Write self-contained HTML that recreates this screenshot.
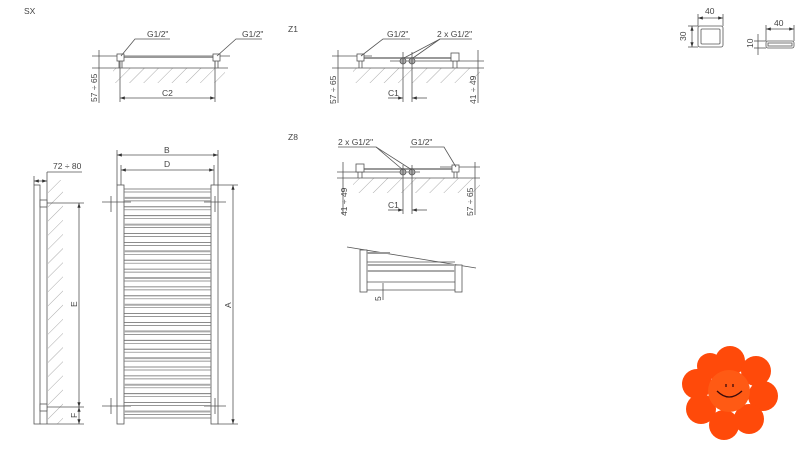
<!DOCTYPE html>
<html><head><meta charset="utf-8"><style>
html,body{margin:0;padding:0;background:#fff;}
svg{display:block;font-family:"Liberation Sans",sans-serif;}
text{fill:#444;font-size:8.5px;}
</style></head><body>
<svg width="801" height="459" viewBox="0 0 801 459" xmlns="http://www.w3.org/2000/svg">
<defs>
<pattern id="h" width="10" height="10" patternUnits="userSpaceOnUse" patternTransform="rotate(45)">
<line x1="0" y1="0" x2="0" y2="10" stroke="#888" stroke-width="0.7"/>
</pattern>
<marker id="a" markerWidth="6" markerHeight="6" refX="6" refY="3" orient="auto-start-reverse"><path d="M0,1 L6,3 L0,5z" fill="#333"/></marker>
</defs>
<g stroke="#555" stroke-width="0.8" fill="none">
<!-- SX -->
<rect x="113" y="68" width="112" height="15" fill="url(#h)" stroke="none"/>
<line x1="92" y1="68" x2="228" y2="68"/>
<line x1="92" y1="56" x2="230" y2="56"/>
<line x1="124" y1="57" x2="213" y2="57" stroke-width="2" stroke="#999"/>
<rect x="117" y="54" width="7" height="7" fill="#fff"/><rect x="213" y="54" width="7" height="7" fill="#fff"/>
<line x1="119" y1="61" x2="119" y2="68"/><line x1="122" y1="61" x2="122" y2="68"/>
<line x1="215" y1="61" x2="215" y2="68"/><line x1="218" y1="61" x2="218" y2="68"/>
<line x1="120" y1="61" x2="120" y2="102"/><line x1="215" y1="61" x2="215" y2="102"/>
<line x1="120" y1="98" x2="215" y2="98" marker-start="url(#a)" marker-end="url(#a)"/>
<line x1="99" y1="50" x2="99" y2="103"/>
<polyline points="170,39 135,39 121,56"/><polyline points="262,39 236,39 217,56"/>
<!-- Z1 -->
<rect x="353" y="68" width="127" height="15" fill="url(#h)" stroke="none"/>
<line x1="332" y1="68" x2="484" y2="68"/>
<line x1="332" y1="56" x2="372" y2="56"/><line x1="390" y1="61" x2="484" y2="61"/>
<line x1="364" y1="58" x2="451" y2="58" stroke-width="2" stroke="#999"/>
<rect x="357" y="54" width="7" height="7" fill="#fff"/><rect x="451" y="53" width="8" height="8" fill="#fff"/>
<line x1="359" y1="61" x2="359" y2="68"/><line x1="362" y1="61" x2="362" y2="68"/>
<line x1="453" y1="61" x2="453" y2="68"/><line x1="457" y1="61" x2="457" y2="68"/>
<circle cx="403" cy="61" r="3" fill="#aaa"/><circle cx="412" cy="61" r="3" fill="#aaa"/>
<line x1="403" y1="52" x2="403" y2="102"/><line x1="412" y1="52" x2="412" y2="102"/>
<line x1="388" y1="98" x2="403" y2="98" marker-end="url(#a)"/><line x1="427" y1="98" x2="412" y2="98" marker-end="url(#a)"/>
<line x1="338" y1="50" x2="338" y2="103"/><line x1="478" y1="50" x2="478" y2="103"/>
<polyline points="410,39 383,39 361,56"/><polyline points="472,39 440,39 404,58"/><line x1="440" y1="39" x2="413" y2="58"/>
<!-- Z8 -->
<rect x="353" y="178" width="127" height="15" fill="url(#h)" stroke="none"/>
<line x1="337" y1="178" x2="480" y2="178"/>
<line x1="337" y1="172" x2="420" y2="172"/><line x1="440" y1="167" x2="480" y2="167"/>
<line x1="364" y1="169" x2="452" y2="169" stroke-width="2" stroke="#999"/>
<rect x="356" y="164" width="8" height="8" fill="#fff"/><rect x="452" y="165" width="7" height="7" fill="#fff"/>
<line x1="358" y1="172" x2="358" y2="178"/><line x1="362" y1="172" x2="362" y2="178"/>
<line x1="454" y1="172" x2="454" y2="178"/><line x1="457" y1="172" x2="457" y2="178"/>
<circle cx="403" cy="172" r="3" fill="#aaa"/><circle cx="412" cy="172" r="3" fill="#aaa"/>
<line x1="403" y1="165" x2="403" y2="214"/><line x1="412" y1="165" x2="412" y2="214"/>
<line x1="388" y1="210" x2="403" y2="210" marker-end="url(#a)"/><line x1="427" y1="210" x2="412" y2="210" marker-end="url(#a)"/>
<line x1="343" y1="162" x2="343" y2="215"/><line x1="475" y1="162" x2="475" y2="215"/>
<polyline points="338,147 376,147 403,170"/><line x1="376" y1="147" x2="412" y2="170"/>
<polyline points="410,147 444,147 456,167"/>
<!-- Z8 lower -->
<line x1="347" y1="247" x2="476" y2="268"/>
<rect x="360" y="250" width="7" height="42" fill="#fff"/><rect x="455" y="265" width="7" height="27" fill="#fff"/>
<line x1="367" y1="253" x2="390" y2="253" stroke="#999" stroke-width="2"/>
<line x1="367" y1="262" x2="455" y2="262"/>
<line x1="367" y1="265" x2="455" y2="265" stroke="#aaa" stroke-width="2"/>
<line x1="367" y1="271" x2="455" y2="271" stroke="#aaa" stroke-width="2"/>
<line x1="367" y1="282" x2="455" y2="282"/><line x1="367" y1="290" x2="455" y2="290"/>
<line x1="383" y1="283" x2="383" y2="300"/>
<!-- side view -->
<rect x="48" y="180" width="15" height="244" fill="url(#h)" stroke="none"/>
<rect x="34" y="185" width="6" height="239"/>
<line x1="47" y1="172" x2="47" y2="424"/>
<rect x="40" y="200" width="7" height="7" fill="#fff"/><rect x="40" y="404" width="7" height="7" fill="#fff"/>
<line x1="47" y1="203" x2="84" y2="203"/><line x1="47" y1="407" x2="84" y2="407"/><line x1="40" y1="424" x2="84" y2="424"/>
<line x1="79" y1="203" x2="79" y2="407" marker-start="url(#a)" marker-end="url(#a)"/>
<line x1="79" y1="407" x2="79" y2="424" marker-start="url(#a)" marker-end="url(#a)"/>
<line x1="34" y1="181" x2="47" y2="181" marker-start="url(#a)" marker-end="url(#a)"/>
<line x1="34" y1="176" x2="34" y2="185"/>
<line x1="47" y1="172" x2="82" y2="172"/>
<!-- front view -->
<rect x="117" y="185" width="7" height="239" fill="#fff"/><rect x="211" y="185" width="7" height="239" fill="#fff"/>
<line x1="117" y1="150" x2="117" y2="185"/><line x1="218" y1="150" x2="218" y2="185"/>
<line x1="117" y1="155" x2="218" y2="155" marker-start="url(#a)" marker-end="url(#a)"/>
<line x1="121" y1="165" x2="121" y2="185"/><line x1="214" y1="165" x2="214" y2="185"/>
<line x1="121" y1="170" x2="214" y2="170" marker-start="url(#a)" marker-end="url(#a)"/>
<line x1="218" y1="185" x2="238" y2="185"/><line x1="218" y1="424" x2="238" y2="424"/>
<line x1="233" y1="185" x2="233" y2="424" marker-start="url(#a)" marker-end="url(#a)"/>
<line x1="102" y1="202" x2="131" y2="202"/><line x1="204" y1="202" x2="226" y2="202"/>
<line x1="102" y1="406" x2="131" y2="406"/><line x1="204" y1="406" x2="226" y2="406"/>
<line x1="111" y1="196" x2="111" y2="212"/><line x1="215" y1="196" x2="215" y2="212"/>
<line x1="111" y1="398" x2="111" y2="414"/><line x1="215" y1="398" x2="215" y2="414"/>
<path stroke="#666" stroke-width="0.8" d="M124,189H211M124,206.8H211M124,215.7H211M124,233.5H211M124,242.4H211M124,260.2H211M124,269.1H211M124,286.9H211M124,295.8H211M124,313.6H211M124,322.5H211M124,340.3H211M124,349.2H211M124,367H211M124,375.9H211M124,393.7H211M124,402.6H211M124,418H211"/>
<path stroke="#aaa" stroke-width="2" d="M124,197.9H211M124,224.6H211M124,251.3H211M124,278H211M124,304.7H211M124,331.4H211M124,358.1H211M124,384.8H211M124,411.5H211"/>
<path stroke="#777" stroke-width="0.7" d="M124,192H211M124,200.9H211M124,209.8H211M124,218.7H211M124,227.6H211M124,236.5H211M124,245.4H211M124,254.3H211M124,263.2H211M124,272.1H211M124,281H211M124,289.9H211M124,298.8H211M124,307.7H211M124,316.6H211M124,325.5H211M124,334.4H211M124,343.3H211M124,352.2H211M124,361.1H211M124,370H211M124,378.9H211M124,387.8H211M124,396.7H211M124,405.6H211M124,414.5H211"/>
<!-- profiles -->
<rect x="698" y="26" width="25" height="21" rx="2"/><rect x="701" y="29" width="19" height="15" rx="1"/>
<line x1="698" y1="14" x2="698" y2="26"/><line x1="723" y1="14" x2="723" y2="26"/>
<line x1="698" y1="18" x2="723" y2="18" marker-start="url(#a)" marker-end="url(#a)"/>
<line x1="688" y1="26" x2="698" y2="26"/><line x1="688" y1="47" x2="698" y2="47"/>
<line x1="692" y1="26" x2="692" y2="47" marker-start="url(#a)" marker-end="url(#a)"/>
<rect x="766" y="41" width="28" height="7" rx="2"/><rect x="768" y="43" width="24" height="3"/>
<line x1="766" y1="25" x2="766" y2="41"/><line x1="794" y1="25" x2="794" y2="41"/>
<line x1="766" y1="29" x2="794" y2="29" marker-start="url(#a)" marker-end="url(#a)"/>
<line x1="754" y1="41" x2="766" y2="41"/><line x1="754" y1="48" x2="766" y2="48"/>
<line x1="758" y1="34" x2="758" y2="55"/>
</g>
<g fill="#444" stroke="none">
<text x="24" y="14" font-size="10">SX</text>
<text x="288" y="32" font-size="10">Z1</text>
<text x="288" y="140" font-size="10">Z8</text>
<text x="147" y="37">G1/2"</text><text x="242" y="37">G1/2"</text>
<text x="162" y="96">C2</text>
<text transform="translate(97,102) rotate(-90)">57 ÷ 65</text>
<text x="387" y="37">G1/2"</text><text x="437" y="37">2 x G1/2"</text>
<text x="388" y="96">C1</text>
<text transform="translate(336,104) rotate(-90)">57 ÷ 65</text>
<text transform="translate(476,104) rotate(-90)">41 ÷ 49</text>
<text x="338" y="145">2 x G1/2"</text><text x="411" y="145">G1/2"</text>
<text x="388" y="208">C1</text>
<text transform="translate(347,216) rotate(-90)">41 ÷ 49</text>
<text transform="translate(473,216) rotate(-90)">57 ÷ 65</text>
<text transform="translate(381,301) rotate(-90)">5</text>
<text x="53" y="169">72 ÷ 80</text>
<text transform="translate(77,307) rotate(-90)">E</text>
<text transform="translate(77,418) rotate(-90)">F</text>
<text x="164" y="153">B</text><text x="164" y="167">D</text>
<text transform="translate(231,308) rotate(-90)">A</text>
<text x="705" y="14" font-size="7.5">40</text>
<text transform="translate(686,41) rotate(-90)" font-size="7.5">30</text>
<text x="774" y="26" font-size="7.5">40</text>
<text transform="translate(753,48) rotate(-90)" font-size="7.5">10</text>
</g>
<!-- flower -->
<g fill="#ff4a0a">
<circle cx="730" cy="361" r="15"/><circle cx="756" cy="371" r="15"/><circle cx="763" cy="396" r="15"/>
<circle cx="749" cy="419" r="15"/><circle cx="724" cy="425" r="15"/><circle cx="701" cy="409" r="15"/>
<circle cx="697" cy="384" r="15"/><circle cx="710" cy="366" r="13"/>
<circle cx="729" cy="391" r="21" fill="#ff5a14"/>
</g>
<path d="M717,391 Q729,403 742,391" stroke="#3a0a0a" stroke-width="1.3" fill="none"/>
<line x1="726" y1="384" x2="726" y2="387" stroke="#3a0a0a" stroke-width="1.3"/>
<line x1="733" y1="384" x2="733" y2="387" stroke="#3a0a0a" stroke-width="1.3"/>
</svg>
</body></html>
